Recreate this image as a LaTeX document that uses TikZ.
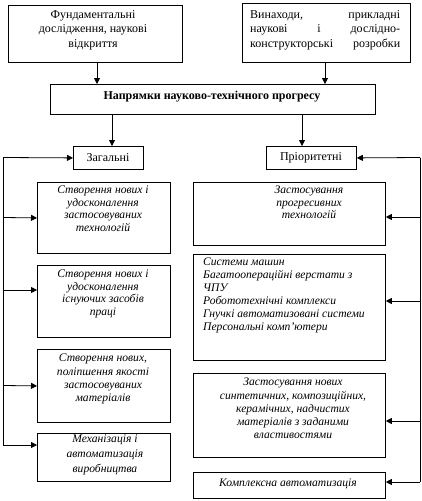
\documentclass[tikz,border=0pt]{standalone}
\usepackage{fontspec}
\setmainfont{Liberation Serif}
\usetikzlibrary{arrows.meta}
\begin{document}
\begin{tikzpicture}[x=1pt,y=-1pt,
  box/.style={draw, line width=0.8pt, anchor=north west, inner sep=0pt},
  txt/.style={font=\fontsize{12}{14.5}\selectfont, align=center, inner sep=0pt, anchor=north},
  itxt/.style={font=\fontsize{11.6}{12.4}\selectfont\itshape, align=center, inner sep=0pt, anchor=north},
  arr/.style={-{Triangle[length=6pt,width=6pt]}, line width=0.8pt}]
\useasboundingbox (0,0) rectangle (422,501);
% boxes
\node[box, minimum width=174pt, minimum height=57pt] (b1) at (8,5) {};
\node[box, minimum width=168pt, minimum height=59pt] (b2) at (242,3) {};
\node[box, minimum width=325pt, minimum height=30pt] (main) at (50,84) {};
\node[box, minimum width=70pt, minimum height=23pt] (zag) at (73,146) {};
\node[box, minimum width=90pt, minimum height=23pt] (prio) at (266,146) {};
\node[box, minimum width=133pt, minimum height=71pt] (A) at (37,182) {};
\node[box, minimum width=133pt, minimum height=72pt] (B) at (37,265) {};
\node[box, minimum width=133pt, minimum height=73pt] (C) at (37,349) {};
\node[box, minimum width=133pt, minimum height=48pt] (D) at (37,433) {};
\node[box, minimum width=192pt, minimum height=63pt] (E) at (193,182) {};
\node[box, minimum width=192pt, minimum height=106pt] (F) at (193,254) {};
\node[box, minimum width=192pt, minimum height=84pt] (G) at (193,373) {};
\node[box, minimum width=192pt, minimum height=26pt] (H) at (193,472) {};
% texts
\node[txt] (t1) at (93,10) {Фундаментальні\\дослідження, наукові\\відкриття};
\node[txt, align=left, anchor=north west] (t2) at (250,10) {\makebox[150pt][s]{Винаходи, прикладні}\\\makebox[150pt][s]{наукові і дослідно-}\\\makebox[150pt][s]{конструкторські розробки}};
\node[txt, font=\fontsize{12}{13}\selectfont\bfseries, anchor=center] (tm) at (212,97) {Напрямки науково-технічного прогресу};
\node[txt, anchor=center] (tz) at (108,157.5) {Загальні};
\node[txt, anchor=center] (tp) at (311,157.5) {Пріоритетні};
\node[itxt] (tA) at (103,186) {Створення нових і\\удосконалення\\застосовуваних\\технологій};
\node[itxt] (tB) at (103,270) {Створення нових і\\удосконалення\\існуючих засобів\\праці};
\node[itxt, font=\fontsize{11.6}{13.3}\selectfont\itshape] (tC) at (103,354) {Створення нових,\\поліпшення якості\\застосовуваних\\матеріалів};
\node[itxt, font=\fontsize{11.6}{15}\selectfont\itshape] (tD) at (105,435) {Механізація і\\автоматизація\\виробництва};
\node[itxt, font=\fontsize{11.6}{12.5}\selectfont\itshape] (tE) at (309,186) {Застосування\\прогресивних\\технологій};
\node[itxt, font=\fontsize{11.6}{13}\selectfont\itshape, align=left, anchor=north west] (tF) at (203,258) {Системи машин\\Багатоопераційні верстати з\\ЧПУ\\Робототехнічні комплекси\\Гнучкі автоматизовані системи\\Персональні комп’ютери};
\node[itxt, font=\fontsize{11.6}{13.25}\selectfont\itshape] (tG) at (293,378) {Застосування нових\\синтетичних, композиційних,\\керамічних, надчистих\\матеріалів з заданими\\властивостями};
\node[itxt, anchor=center] (tH) at (288,484) {Комплексна автоматизація};
% top connectors
\draw[arr] (b1.south -| 97,0) -- (main.north -| 97,0);
\draw[arr] (b2.south -| 325,0) -- (main.north -| 325,0);
\draw[arr] (main.south -| 112,0) -- (zag.north -| 112,0);
\draw[arr] (main.south -| 302,0) -- (prio.north -| 302,0);
% left bus
\coordinate (L0) at (3,157.5);
\coordinate (L1) at (3,217.5);
\coordinate (L2) at (3,290);
\coordinate (L3) at (3,385.5);
\coordinate (L4) at (3,445);
\draw[line width=0.8pt] (L0) -- (L4);
\draw[arr] (L0) -- (zag.west);
\draw[arr] (L1) -- (A.west);
\draw[arr] (L2) -- (B.west |- L2);
\draw[arr] (L3) -- (C.west);
\draw[arr] (L4) -- (D.west |- L4);
% right bus
\coordinate (R0) at (420,157.5);
\coordinate (R1) at (420,217);
\coordinate (R2) at (420,301);
\coordinate (R3) at (420,421);
\coordinate (R4) at (420,482);
\draw[line width=0.8pt] (R0) -- (R4);
\draw[arr] (R0) -- (prio.east);
\draw[arr] (R1) -- (E.east |- R1);
\draw[arr] (R2) -- (F.east |- R2);
\draw[arr] (R3) -- (G.east |- R3);
\draw[arr] (R4) -- (H.east |- R4);
\end{tikzpicture}
\end{document}
